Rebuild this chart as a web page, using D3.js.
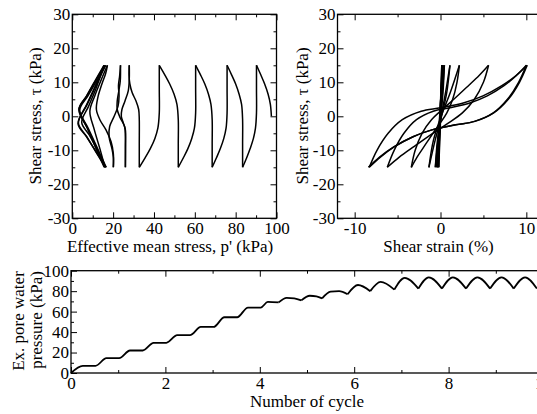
<!DOCTYPE html>
<html><head><meta charset="utf-8">
<script src="https://cdn.jsdelivr.net/npm/d3@7"></script>
<style>
body{margin:0;background:#fff}
svg{display:block}
</style>
</head><body>
<svg id="c" width="537" height="414"></svg>
<script>
// ---------- DATA ----------
// Effective stress path: [p' (kPa), tau (kPa)] in loading order
const stressPath = [
  [97.5,0],[97.0,3.5],[95.9,6.5],[94.2,9.5],[92.3,12.2],[90.2,15],
  [90.2,8],[90.2,1],[89.7,-3.5],[88.7,-6.5],[87.1,-9.5],[85.4,-12.2],[83.4,-15],
  [83.4,-8],[83.4,-1],[82.9,3.5],[81.7,6.5],[80.0,9.5],[78.0,12.2],[75.8,15],
  [75.8,8],[75.8,1],[75.3,-3.5],[74.2,-6.5],[72.5,-9.5],[70.6,-12.2],[68.5,-15],
  [68.5,-8],[68.5,-1],[67.9,3.5],[66.7,6.5],[64.9,9.5],[62.8,12.2],[60.4,15],
  [60.4,8],[60.4,1],[59.8,-3.5],[58.5,-6.5],[56.6,-9.5],[54.4,-12.2],[51.9,-15],
  [51.9,-8],[51.9,-1],[51.25,3.5],[49.85,6.5],[47.7,9.5],[45.3,12.2],[42.6,15],
  [42.6,8],[42.6,1],[41.9,-3.5],[40.45,-6.5],[38.2,-9.5],[35.65,-12.2],[32.8,-15],
  [32.8,-8],[32.8,-1],[32.5,2],[31.2,4.5],[29.3,7],[28.2,9.5],[27.8,12],[27.9,15],
  [27.9,11],[27.4,7.5],[25.8,4.5],[24.3,2],[24.0,0],[25.0,-2],[26.0,-4],[26.0,-9],[26.0,-15],
  [26.0,-6],[25.6,-3],[23.5,-0.5],[22.0,2],[22.0,4.5],[22.8,7.5],[23.5,10.5],[23.6,15],
  [23.2,12],[22.6,9],[22.9,6],[22.4,3],[20.5,0],[18.3,-3],[18.0,-6],[19.4,-9.5],[20.1,-12],[20.1,-15],
  [20.1,-11],[19.0,-7.5],[16.5,-4],[13.5,-1],[11.8,2],[12.5,5.5],[14.5,9.5],[16.3,12.5],[17.2,15],
  [14.0,10.5],[11.0,6],[8.6,1.5],[10.8,-4],[13.5,-9.5],[16.0,-15],
  [12.3,-10],[8.3,-5.5],[4.6,-1.8],[8.0,3],[11.8,8.5],[15.5,15],
  [11.2,10.5],[7.0,6],[3.2,2],[7.4,-3.5],[11.6,-9],[16.2,-15],
  [11.6,-10.5],[7.1,-6],[3.0,-2],[7.1,3.5],[11.3,9],[15.8,15],
  [11.45,10.5],[7.1,6],[3.4,2.2],[7.8,-3.5],[12.0,-9],[16.6,-15],
  [11.75,-10.5],[6.9,-6],[2.8,-2.2],[7.3,3.5],[11.6,9],[16.3,15],
  [12.0,10.5],[7.65,6],[3.6,1.8],[7.4,-3.5],[11.3,-9],[15.6,-15]
];

// Stress-strain path: [shear strain (%), tau (kPa)]
const strainPath = [
  [0,0],[0.07,7],[0.15,15],
  [-0.05,0],[-0.2,-15],
  [0.02,0],[0.2,15],
  [-0.06,0],[-0.3,-15],
  [0.0,0],[0.25,15],
  [-0.08,0],[-0.35,-15],
  [0.0,0],[0.3,15],
  [-0.1,0],[-0.45,-15],
  [0.02,0],[0.45,15],
  [0.29,7],[0.03,0],[-0.29,-7],[-0.6,-15],
  [-0.35,-7],[0.08,0],[0.59,7],[1.1,15],
  [0.73,7],[0.12,0],[-0.62,-7],[-1.35,-15],
  [-0.82,-7],[0.07,0],[1.14,7],[2.2,15],
  [1.92,10],[1.42,5],[0.74,1],[-0.04,-2],[-0.88,-5],[-1.94,-9],[-2.73,-12],[-3.4,-15],
  [-2.95,-10],[-2.15,-5],[-1.05,-1],[0.2,2],[1.55,5],[3.25,9],[4.5,12],[5.6,15],
  [5.0,10],[3.95,5],[2.55,1],[0.9,-2],[-0.9,-5],[-3.15,-9],[-4.8,-12],[-6.2,-15],
  [-5.4,-10],[-4.26,-5],[-2.8,-1],[-0.85,1.5],[1.1,2.5],[3.5,4],[5.45,6],[7.4,9],[8.85,12],[10,15],
  [9.1,10],[7.8,5],[6.15,1],[3.95,-1.5],[1.75,-2.5],[-1,-4],[-3.2,-6],[-5.4,-9],[-7,-12],[-8.3,-15],
  [-7.4,-10],[-6.1,-5],[-4.45,-1],[-2.25,1.5],[0,2.5],[2.75,4],[4.95,6],[7.15,9],[8.8,12],[10.1,15],
  [9.2,10],[7.9,5],[6.2,1],[4,-1.5],[1.8,-2.5],[-1,-4],[-3.2,-6],[-5.45,-9],[-7.1,-12],[-8.4,-15]
];

// Excess pore water pressure history
const cycleN = [0,0.25,0.52,0.75,1.02,1.25,1.52,1.75,2.02,2.25,2.52,2.75,3.02,3.25,3.52,3.75,4.02,
  4.17,4.4,4.57,4.73,4.88,5.06,5.2,5.32,5.5,5.68,5.86,6.08,6.34,6.56,6.85,7.07,7.36,7.58,7.86,
  8.09,8.37,8.61,8.88,9.12,9.38,9.62,9.87];
const poreU = [0,7,7,14.5,14.5,22,22,29.5,29.5,37,37,45,45,54.5,54.5,64,64,
  69.5,69,73.5,73,71,75.5,75,73,79.5,80,77,86,80,89,81.5,93,82.5,93.5,82.5,
  93.5,82.5,93.5,82.5,93.5,82.5,93.5,82.5];

// Axis ticks
const pMajor = [0,20,40,60,80,100], pMinor = [10,30,50,70,90];
const tauMajor = [-30,-20,-10,0,10,20,30], tauMinor = [-25,-15,-5,5,15,25];
const gMajor = [-10,0,10], gMinor = [-5,5];
const nMajor = [0,2,4,6,8,10], nMinor = [1,3,5,7,9];
const uMajor = [0,20,40,60,80,100], uMinor = [10,30,50,70,90];

// ---------- DRAW ----------
const FONT = "'Liberation Serif', 'Times New Roman', Times, 'DejaVu Serif', serif";
const svg = d3.select("#c").style("font-family", FONT);
const FS = 17;

function frame(xs, ys, xMaj, xMin, yMaj, yMin){
  const [x0,x1] = xs.range(), [y0,y1] = ys.range();
  const g = svg.append("g");
  const fmt = d => String(d);
  const add = (axisFn, sc, vals, size, labels, tx, ty, pad) => {
    const a = axisFn(sc).tickValues(vals).tickSizeInner(size).tickSizeOuter(0).tickPadding(pad||3)
      .tickFormat(labels ? fmt : "");
    const gg = g.append("g").attr("transform", `translate(${tx},${ty})`).call(a);
    gg.select(".domain").remove();
    gg.attr("font-family", null).attr("font-size", null);
    gg.selectAll("line").attr("stroke","#000").attr("stroke-width",1);
    gg.selectAll("text").style("font-family", FONT).style("font-size", FS + "px").attr("fill","#000");
    return gg;
  };
  add(d3.axisBottom, xs, xMaj, -6, true, 0, y0, 4);
  add(d3.axisBottom, xs, xMin, -3, false, 0, y0);
  add(d3.axisTop, xs, xMaj, -6, false, 0, y1);
  add(d3.axisTop, xs, xMin, -3, false, 0, y1);
  add(d3.axisLeft, ys, yMaj, -6, true, x0, 0, 2);
  add(d3.axisLeft, ys, yMin, -3, false, x0, 0);
  add(d3.axisRight, ys, yMaj, -6, false, x1, 0);
  add(d3.axisRight, ys, yMin, -3, false, x1, 0);
  g.append("rect").attr("x",x0).attr("y",y1).attr("width",x1-x0).attr("height",y0-y1)
    .attr("fill","none").attr("stroke","#000").attr("stroke-width",1.3);
  return g;
}

function splitAtPeaks(pts){
  const segs=[]; let cur=[pts[0]];
  for(let i=1;i<pts.length;i++){
    cur.push(pts[i]);
    if(Math.abs(pts[i][1])===15 && i<pts.length-1){ segs.push(cur); cur=[pts[i]]; }
  }
  segs.push(cur);
  return segs;
}

// Panel 1: stress path
const xP = d3.scaleLinear().domain([0,100]).range([72.3,276.5]);
const yT = d3.scaleLinear().domain([-30,30]).range([218.3,14.3]);
const line1 = d3.line().x(d=>xP(d[0])).y(d=>yT(d[1])).curve(d3.curveCatmullRom.alpha(0.5));
svg.append("g").selectAll("path").data(splitAtPeaks(stressPath)).join("path")
  .attr("d",line1).attr("fill","none").attr("stroke","#000").attr("stroke-width",1.5);
frame(xP, yT, pMajor, pMinor, tauMajor, tauMinor);

// Panel 2: stress-strain
const xG = d3.scaleLinear().domain([-12,12]).range([337.5,543.5]);
const line2 = d3.line().x(d=>xG(d[0])).y(d=>yT(d[1])).curve(d3.curveCatmullRom.alpha(0.5));
svg.append("g").selectAll("path").data(splitAtPeaks(strainPath)).join("path")
  .attr("d",line2).attr("fill","none").attr("stroke","#000").attr("stroke-width",1.5);
frame(xG, yT, gMajor, gMinor, tauMajor, tauMinor);

// Panel 3: pore pressure
const xN = d3.scaleLinear().domain([0,10]).range([71,543]);
const yU = d3.scaleLinear().domain([0,100]).range([373,270.7]);
const pts3 = cycleN.map((n,i)=>[n, poreU[i]]);
const segs3=[]; let cur3=[pts3[0]];
for(let i=1;i<pts3.length;i++){
  cur3.push(pts3[i]);
  if(i<pts3.length-1 && poreU[i]<poreU[i-1] && poreU[i]<poreU[i+1]){ segs3.push(cur3); cur3=[pts3[i]]; }
}
segs3.push(cur3);
const line3 = d3.line().x(d=>xN(d[0])).y(d=>yU(d[1])).curve(d3.curveMonotoneX);
svg.append("g").selectAll("path").data(segs3).join("path")
  .attr("d",line3).attr("fill","none").attr("stroke","#000").attr("stroke-width",1.8);
frame(xN, yU, nMajor, nMinor, uMajor, uMinor);

// Titles
const T = (txt, x, y, rot) => {
  const t = svg.append("text").style("font-family", FONT).style("font-size", FS + "px")
    .attr("fill","#000").attr("text-anchor","middle").text(txt);
  if(rot) t.attr("transform",`translate(${x},${y}) rotate(-90)`).attr("dy","0.35em");
  else t.attr("x",x).attr("y",y);
};
T("Effective mean stress, p' (kPa)", 170, 252);
T("Shear strain (%)", 438.5, 252);
T("Shear stress, \u03c4 (kPa)", 35, 116, true);
T("Shear stress, \u03c4 (kPa)", 302, 116, true);
T("Ex. pore water", 18.5, 321, true);
T("pressure (kPa)", 36.5, 320, true);
T("Number of cycle", 307, 407);
</script>
</body></html>
